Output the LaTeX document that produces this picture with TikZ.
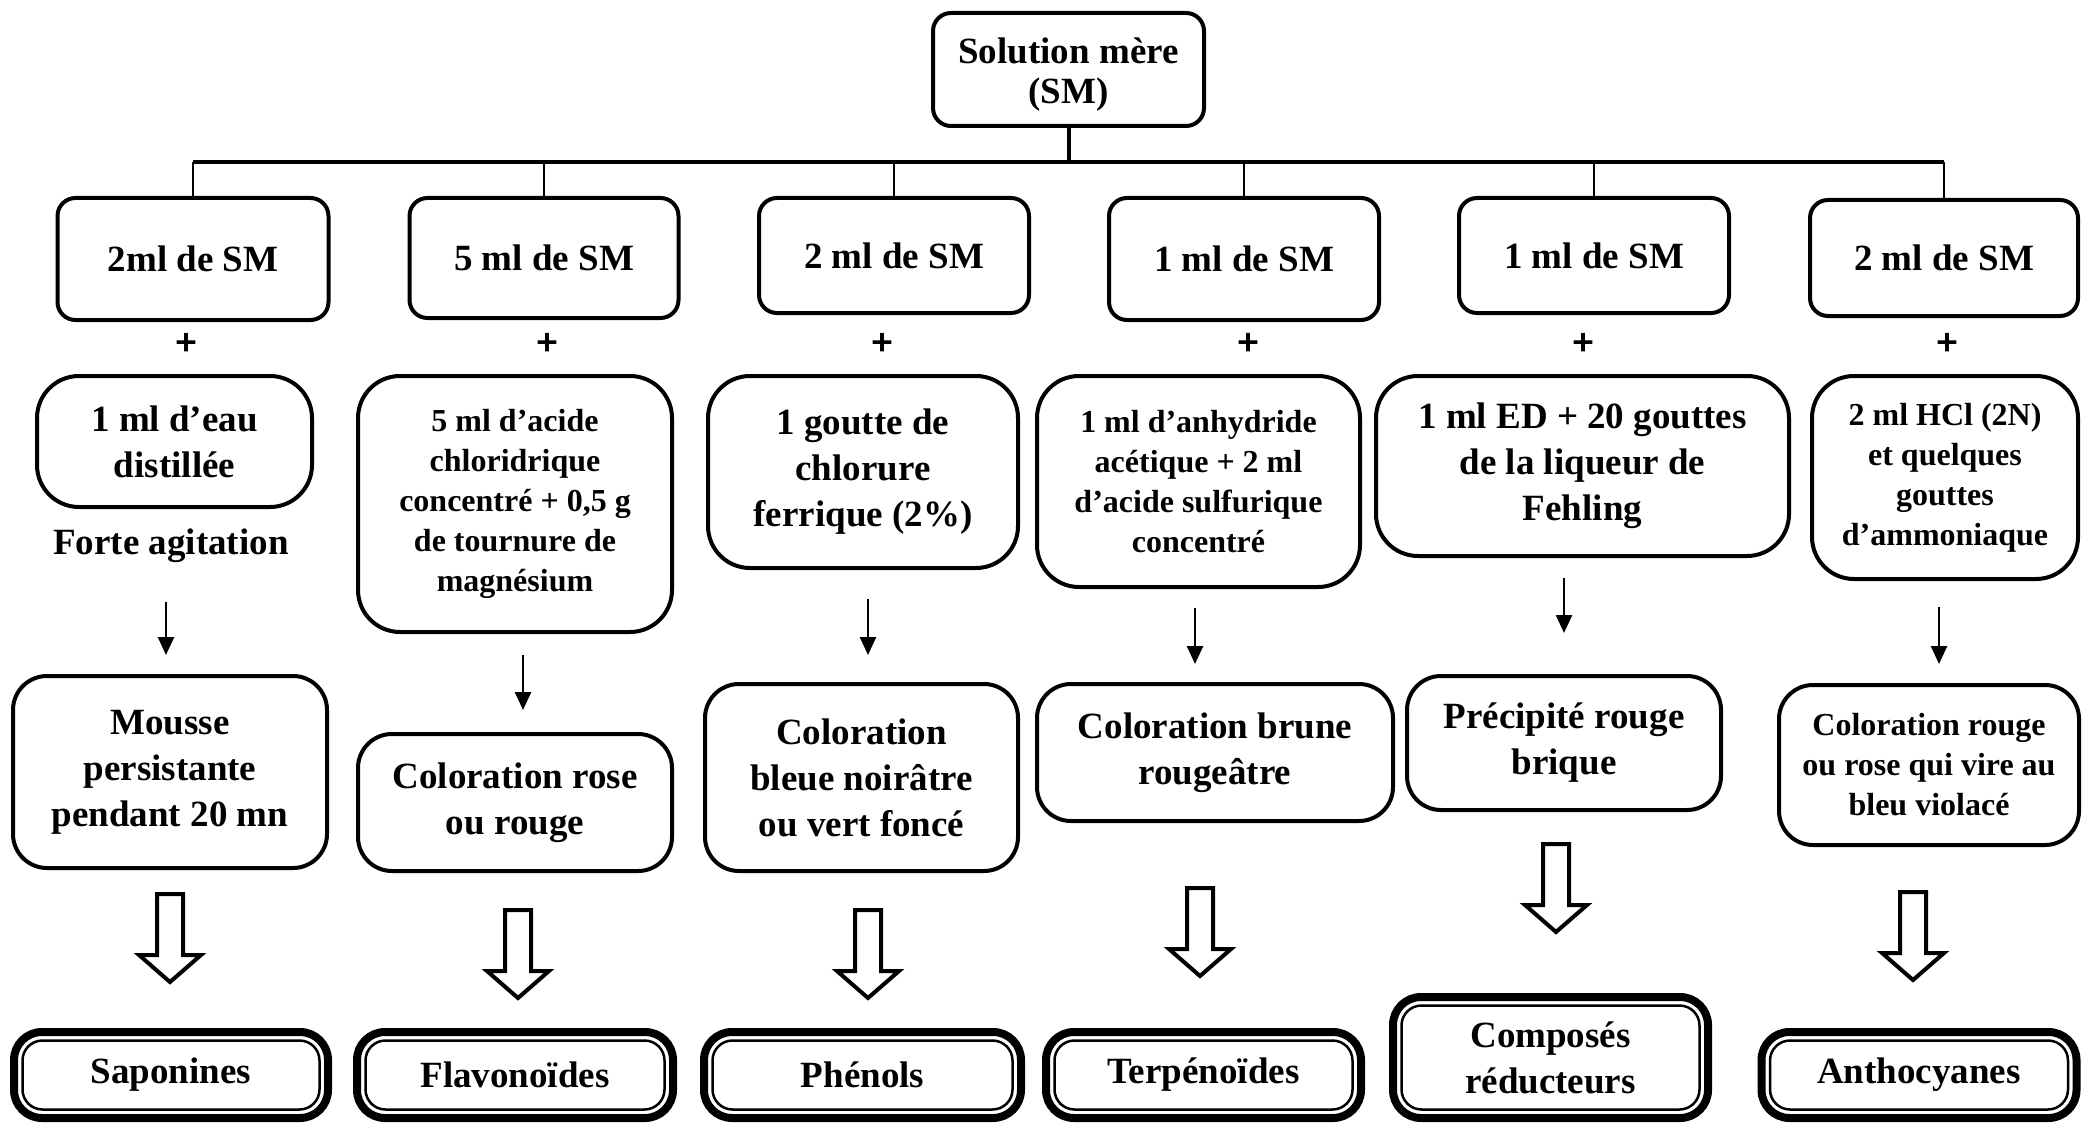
\documentclass[tikz,border=0pt]{standalone}
\usepackage{fontspec}
\setmainfont{Liberation Serif}
\newfontfamily\plusfont{Liberation Serif}[BoldFeatures={FakeBold=2.5}]
\usetikzlibrary{arrows.meta,calc}
\begin{document}
\begin{tikzpicture}[x=1pt,y=-1pt,
  font=\bfseries\fontsize{37}{46}\selectfont,
  box/.style={draw, line width=4pt, rounded corners=18pt, align=center, inner sep=0pt, outer sep=0pt},
  rbox/.style={box, rounded corners=42pt},
  mbox/.style={box, rounded corners=34pt},
  small/.style={font=\bfseries\fontsize{32}{40}\selectfont},
  sz/.style 2 args={minimum width=#1pt, minimum height=#2pt},
  final/.style={draw, line width=8pt, rounded corners=28pt, align=center, inner sep=0pt, outer sep=0pt},
  inner frame/.style={line width=2.5pt, rounded corners=20pt},
  plus/.style={font=\plusfont\bfseries\fontsize{38}{46}\selectfont, inner sep=0pt},
  bus/.style={line width=4pt},
  drop/.style={line width=2.5pt},
  tarr/.style={line width=2.5pt, -{Triangle[width=16pt,length=18pt]}},
  harrow/.pic={\draw[line width=4pt, line join=miter, fill=white]
     (-13,2) -- (13,2) -- (13,63) -- (31,63) -- (0,90) -- (-31,63) -- (-13,63) -- cycle;}
]
\useasboundingbox (0,0) rectangle (2082,1123);

% top
\node[box, sz={271}{113}, font=\bfseries\fontsize{37}{40}\selectfont] (top) at (1068.5,69.5) {\raisebox{-6pt}[\height][\depth]{\begin{tabular}{@{}c@{}}Solution mère\\(SM)\end{tabular}}};

% row 1
\node[box, sz={271}{122}] (s1) at (193,259) {2ml de SM};
\node[box, sz={269}{120}] (s2) at (544,258) {5 ml de SM};
\node[box, sz={270}{115}] (s3) at (894,255.5) {2 ml de SM};
\node[box, sz={270}{122}] (s4) at (1244,259) {1 ml de SM};
\node[box, sz={270}{115}] (s5) at (1594,255.5) {1 ml de SM};
\node[box, sz={268}{116}] (s6) at (1944,258) {2 ml de SM};

\coordinate (busL) at (193,162);
\coordinate (busR) at (1944,162);
\draw[bus] (top.south) -- (top.south |- busL);
\draw[bus] (busL) -- (busR);
\foreach \n in {s1,s2,s3,s4,s5,s6}
  \draw[drop] (\n.north |- busL) -- (\n.north);

% plus signs
\node[plus] (p1) at (186,344) {+};
\node[plus] (p2) at (547,344) {+};
\node[plus] (p3) at (882,344) {+};
\node[plus] (p4) at (1248,344) {+};
\node[plus] (p5) at (1583,344) {+};
\node[plus] (p6) at (1947,344) {+};

% row 2
\node[rbox, sz={275}{131}] (r2a) at (174.5,441.5) {1 ml d’eau\\distillée};
\node[rbox, sz={314}{256}, small] (r2b) at (515,504) {5 ml d’acide\\chloridrique\\concentré + 0,5 g\\de tournure de\\magnésium};
\node[rbox, sz={310}{192}] (r2c) at (863,472) {1 goutte de\\chlorure\\ferrique (2\%)};
\node[rbox, sz={323}{211}, small] (r2d) at (1198.5,481.5) {1 ml d’anhydride\\acétique + 2 ml\\d’acide sulfurique\\concentré};
\node[rbox, sz={413}{180}] (r2e) at (1582.5,466) {1 ml ED + 20 gouttes\\de la liqueur de\\Fehling};
\node[rbox, sz={266}{203}, small] (r2f) at (1945,477.5) {2 ml HCl (2N)\\et quelques\\gouttes\\d’ammoniaque};

\node (fa) at (171,546) {Forte agitation};

% row 3
\node[mbox, sz={314}{192}] (r3a) at (170,772) {Mousse\\persistante\\pendant 20 mn};
\node[mbox, sz={314}{137}] (r3b) at (515,802.5) {Coloration rose\\ou rouge};
\node[mbox, sz={313}{187}] (r3c) at (861.5,777.5) {Coloration\\bleue noirâtre\\ou vert foncé};
\node[mbox, sz={356}{137}] (r3d) at (1215,752.5) {Coloration brune\\rougeâtre};
\node[mbox, sz={314}{134}] (r3e) at (1564,743) {Précipité rouge\\brique};
\node[mbox, sz={300}{160}, small] (r3f) at (1929,765) {Coloration rouge\\ou rose qui vire au\\bleu violacé};

% thin arrows
\draw[tarr, shorten <=36pt, shorten >=21pt] ([xshift=-5pt]fa.south) -- ([xshift=-5pt]fa.south |- r3a.north);
\draw[tarr, shorten <=23pt, shorten >=24pt] ([xshift=8pt]r2b.south) -- ([xshift=8pt]r3b.north);
\draw[tarr, shorten <=31pt, shorten >=29pt] ([xshift=5pt]r2c.south) -- ([xshift=5pt]r2c.south |- r3c.north);
\draw[tarr, shorten <=21pt, shorten >=20pt] ([xshift=-3.5pt]r2d.south) -- ([xshift=-3.5pt]r2d.south |- r3d.north);
\draw[tarr, shorten <=22pt, shorten >=43pt] (r2e.south -| r3e.north) -- (r3e.north);
\draw[tarr, shorten <=28pt, shorten >=21pt] ([xshift=-6pt]r2f.south) -- ([xshift=-6pt]r2f.south |- r3f.north);

% final boxes
\node[final, sz={314}{86}] (b1) at (171,1075) {Saponines};
\node[final, sz={316}{86}] (b2) at (515,1075) {Flavonoïdes};
\node[final, sz={317}{86}] (b3) at (862.5,1075) {Phénols};
\node[final, sz={315}{86}] (b4) at (1203.5,1075) {Terpénoïdes};
\node[final, sz={315}{121}] (b5) at (1550.5,1057.5) {Composés\\réducteurs};
\node[final, sz={315}{86}] (b6) at (1919,1075) {Anthocyanes};
\foreach \n in {b1,b2,b3,b4,b5,b6}
  \draw[inner frame] ([shift={(8.5pt,-8.5pt)}]\n.north west) rectangle ([shift={(-8.5pt,8.5pt)}]\n.south east);

% hollow arrows
\pic at (170,892) {harrow};
\pic at (518,908) {harrow};
\pic at (868,908) {harrow};
\pic at (1200,886) {harrow};
\pic at (1556,842) {harrow};
\pic at (1913,890) {harrow};
\end{tikzpicture}
\end{document}
